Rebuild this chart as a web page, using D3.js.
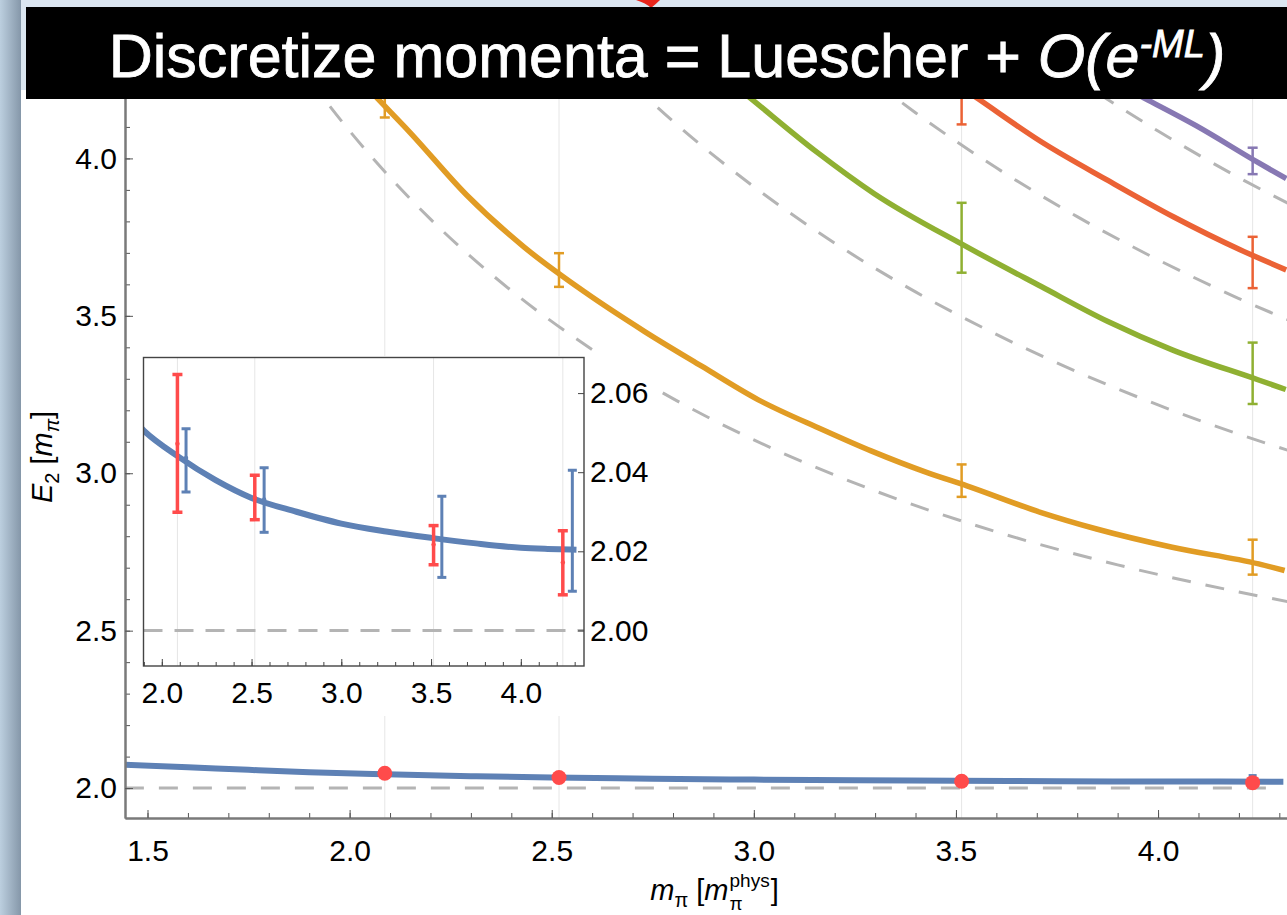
<!DOCTYPE html>
<html lang="en">
<head>
<meta charset="UTF-8">
<title>Discretize momenta = Luescher + O(e^-ML)</title>
<script src="https://d3js.org/d3.v7.min.js"></script>
<style>
  body { margin: 0; background: #dbe6f1; }
  svg { display: block; font-family: "Liberation Sans", Arial, Helvetica, sans-serif; }
  .tick text { fill: #000; }
</style>
</head>
<body>
<svg width="1287" height="915"></svg>
<script>
// ---- data ----
const mpiLattice = [2.087, 2.518, 3.514, 4.234];      // lattice pion masses [m_pi^phys]
const mpiShifted = [2.135, 2.57, 3.56, 4.287];        // blue points, drawn slightly right in the inset

// ground state (red = lattice data, blue = discretized momenta)
const redCentral  = [2.0472, 2.0335, 2.0217, 2.0172];
const redLow      = [2.0299, 2.0280, 2.0166, 2.0090];
const redHigh     = [2.0647, 2.0392, 2.0265, 2.0252];
const blueCentral = [2.0436, 2.0331, 2.0231, 2.0204];
const blueLow     = [2.0350, 2.0248, 2.0134, 2.0099];
const blueHigh    = [2.0510, 2.0411, 2.0339, 2.0405];

const groundX = [1.444, 1.6, 1.75, 1.9, 2.09, 2.3, 2.5, 2.75, 3.0, 3.25, 3.5, 3.75, 4.0, 4.15, 4.31];
const groundE = [2.074, 2.066, 2.058, 2.0505, 2.044, 2.038, 2.0335, 2.030, 2.027, 2.025, 2.0234, 2.022, 2.0209, 2.0206, 2.0204];

// excited levels (solid curves)
const level1X = [2.05, 2.07, 2.149, 2.29, 2.431, 2.58, 2.73, 2.871, 3.01, 3.169, 3.29, 3.429, 3.527, 3.709, 3.848, 4.035, 4.249, 4.313];
const level1E = [4.216, 4.189, 4.083, 3.883, 3.719, 3.577, 3.45, 3.34, 3.234, 3.139, 3.071, 3.002, 2.96, 2.876, 2.823, 2.765, 2.712, 2.691];
const level2X = [2.97, 2.993, 3.156, 3.298, 3.527, 3.711, 3.876, 4.035, 4.247, 4.316];
const level2E = [4.214, 4.19, 4.02, 3.888, 3.719, 3.593, 3.482, 3.392, 3.297, 3.266];
const level3X = [3.53, 3.554, 3.712, 3.876, 4.039, 4.203, 4.317];
const level3E = [4.211, 4.19, 4.052, 3.93, 3.814, 3.71, 3.646];
const level4X = [3.94, 3.968, 4.094, 4.246, 4.317];
const level4E = [4.209, 4.19, 4.104, 3.988, 3.936];

// error bars on excited levels
const level1Low  = [4.13, 3.592, 2.925, 2.678];
const level1High = [4.25, 3.699, 3.028, 2.789];
const level2BarX = [3.514, 4.234];
const level2Low  = [3.637, 3.22];
const level2High = [3.859, 3.415];
const level3BarX = [3.514, 4.234];
const level3Low  = [4.108, 3.588];
const level3High = [4.33, 3.751];
const level4BarX = [4.234];
const level4Low  = [3.95];
const level4High = [4.034];

// non-interacting levels (dashed)
const free1X = [1.9, 2.0, 2.2, 2.4, 2.6, 2.8, 3.0, 3.3, 3.6, 3.9, 4.2, 4.35];
const free1E = [4.251, 4.087, 3.807, 3.58, 3.393, 3.237, 3.106, 2.944, 2.814, 2.709, 2.623, 2.585];
const free2X = [2.7, 2.8, 3.0, 3.2, 3.4, 3.6, 3.8, 4.0, 4.2, 4.35];
const free2E = [4.235, 4.118, 3.91, 3.731, 3.576, 3.441, 3.322, 3.217, 3.124, 3.061];
const free3X = [3.3, 3.4, 3.6, 3.8, 4.0, 4.2, 4.35];
const free3E = [4.242, 4.145, 3.97, 3.815, 3.678, 3.555, 3.472];
const free4X = [3.85, 4.0, 4.2, 4.35];
const free4E = [4.208, 4.087, 3.939, 3.839];
const thresholdX = [1.444, 4.29];
const thresholdE = [2.0, 2.0];

const mainXTicks = [1.5, 2.0, 2.5, 3.0, 3.5, 4.0];
const mainYTicks = [2.0, 2.5, 3.0, 3.5, 4.0];
const insetXTicks = [2.0, 2.5, 3.0, 3.5, 4.0];
const insetYTicks = [2.00, 2.02, 2.04, 2.06];

const colors = { blue: "#5e81b5", orange: "#e19c24", green: "#8fb032", red: "#eb6235", purple: "#8778b3", data: "#ff4b4b", dash: "#b4b4b4", grid: "#e6e6e6" };

// ---- setup ----
const svg = d3.select("svg"), W = 1287, H = 915;

const defs = svg.append("defs");
const edge = defs.append("linearGradient").attr("id", "edge");
edge.append("stop").attr("offset", "0%").attr("stop-color", "#bccfdf");
edge.append("stop").attr("offset", "100%").attr("stop-color", "#8597a9");
defs.append("clipPath").attr("id", "mainClip").append("rect")
  .attr("x", 125).attr("y", 88).attr("width", W - 125).attr("height", 730);
defs.append("clipPath").attr("id", "insetClip").append("rect")
  .attr("x", 143.5).attr("y", 357.5).attr("width", 440.5).attr("height", 308.5);

svg.append("rect").attr("width", W).attr("height", H).attr("fill", "#dbe6f1");
svg.append("rect").attr("width", 21).attr("height", H).attr("fill", "url(#edge)");
svg.append("rect").attr("x", 21).attr("y", 90).attr("width", W - 21).attr("height", H - 90).attr("fill", "#fff");

const x = d3.scaleLinear().domain([1.4443, 4.319]).range([125, 1287]);
const y = d3.scaleLinear().domain([1.905, 4.223]).range([818, 88.2]);
const xi = d3.scaleLinear().domain([1.898, 4.352]).range([143.5, 584]);
const yi = d3.scaleLinear().domain([1.991, 2.069]).range([666, 357.5]);

const curve = (xs, es, sx, sy) => d3.line()
  .x(i => sx(xs[i])).y(i => sy(es[i]))
  .curve(d3.curveMonotoneX)(d3.range(xs.length));

function bars(g, xs, lo, hi, sx, sy, color, w, cap) {
  xs.forEach((v, i) => {
    g.append("line").attr("x1", sx(v)).attr("x2", sx(v)).attr("y1", sy(lo[i])).attr("y2", sy(hi[i]))
      .attr("stroke", color).attr("stroke-width", w);
    [lo[i], hi[i]].forEach(e => g.append("line")
      .attr("x1", sx(v) - cap / 2).attr("x2", sx(v) + cap / 2).attr("y1", sy(e)).attr("y2", sy(e))
      .attr("stroke", color).attr("stroke-width", w));
  });
}

function rich(text, parts) {
  let prev = 0;
  parts.forEach(p => {
    const s = p.shift || 0;
    const ts = text.append("tspan").text(p.t).attr("dy", s - prev);
    prev = s;
    if (p.italic) ts.attr("font-style", "italic");
    if (p.size) ts.attr("font-size", p.size);
    if (p.dx) ts.attr("dx", p.dx);
  });
}

// ---- main plot ----
const main = svg.append("g").attr("clip-path", "url(#mainClip)");

main.selectAll(".grid").data(mpiLattice).enter().append("line")
  .attr("x1", d => x(d)).attr("x2", d => x(d)).attr("y1", 88).attr("y2", 818)
  .attr("stroke", colors.grid).attr("stroke-width", 1);

[[free1X, free1E], [free2X, free2E], [free3X, free3E], [free4X, free4E], [thresholdX, thresholdE]].forEach(([xs, es]) => {
  main.append("path").attr("d", curve(xs, es, x, y)).attr("fill", "none")
    .attr("stroke", colors.dash).attr("stroke-width", 3).attr("stroke-dasharray", "19 15");
});

[[level1X, level1E, colors.orange], [level2X, level2E, colors.green], [level3X, level3E, colors.red], [level4X, level4E, colors.purple]]
  .forEach(([xs, es, c]) => {
    main.append("path").attr("d", curve(xs, es, x, y)).attr("fill", "none")
      .attr("stroke", c).attr("stroke-width", 5.5);
  });

bars(main, mpiLattice, level1Low, level1High, x, y, colors.orange, 2.5, 10);
bars(main, level2BarX, level2Low, level2High, x, y, colors.green, 2.5, 10);
bars(main, level3BarX, level3Low, level3High, x, y, colors.red, 2.5, 10);
bars(main, level4BarX, level4Low, level4High, x, y, colors.purple, 2.5, 10);

main.append("path").attr("d", curve(groundX, groundE, x, y)).attr("fill", "none")
  .attr("stroke", colors.blue).attr("stroke-width", 6);
bars(main, mpiLattice, blueLow, blueHigh, x, y, colors.blue, 2.5, 8);

main.selectAll(".dot").data(mpiLattice).enter().append("circle")
  .attr("cx", d => x(d)).attr("cy", (d, i) => y(redCentral[i])).attr("r", 7.5)
  .attr("fill", colors.data);

// ---- inset ----
const inset = svg.append("g");
inset.append("rect").attr("x", 134).attr("y", 356).attr("width", 526).attr("height", 360).attr("fill", "#fff");
const ic = inset.append("g").attr("clip-path", "url(#insetClip)");

ic.selectAll(".igrid").data(mpiLattice).enter().append("line")
  .attr("x1", d => xi(d)).attr("x2", d => xi(d)).attr("y1", 357).attr("y2", 666)
  .attr("stroke", colors.grid).attr("stroke-width", 1);
ic.append("line").attr("x1", xi(1.898)).attr("x2", xi(4.352)).attr("y1", yi(2.0)).attr("y2", yi(2.0))
  .attr("stroke", colors.dash).attr("stroke-width", 3).attr("stroke-dasharray", "19 12");
ic.append("path").attr("d", curve(groundX, groundE, xi, yi)).attr("fill", "none")
  .attr("stroke", colors.blue).attr("stroke-width", 6);

bars(ic, mpiLattice, redLow, redHigh, xi, yi, colors.data, 3.5, 10);
bars(ic, mpiShifted, blueLow, blueHigh, xi, yi, colors.blue, 3, 9);
ic.selectAll(".rc").data(mpiLattice).enter().append("circle")
  .attr("cx", d => xi(d)).attr("cy", (d, i) => yi(redCentral[i])).attr("r", 2.2).attr("fill", colors.data);
ic.selectAll(".bc").data(mpiShifted).enter().append("circle")
  .attr("cx", d => xi(d)).attr("cy", (d, i) => yi(blueCentral[i])).attr("r", 2.2).attr("fill", colors.blue);

inset.append("rect").attr("x", 143.5).attr("y", 357.5).attr("width", 440.5).attr("height", 308.5)
  .attr("fill", "none").attr("stroke", "#444").attr("stroke-width", 1.4);

const ixMinor = inset.append("g").attr("transform", "translate(0,666)")
  .call(d3.axisBottom(xi).tickValues(d3.range(19, 44).map(d => d / 10)).tickSize(-4).tickSizeOuter(0).tickFormat(""));
const ixMajor = inset.append("g").attr("transform", "translate(0,666)")
  .call(d3.axisBottom(xi).tickValues(insetXTicks).tickSize(-7).tickSizeOuter(0).tickPadding(16).tickFormat(d3.format(".1f")));
const iyAxis = inset.append("g").attr("transform", "translate(584,0)")
  .call(d3.axisRight(yi).tickValues(insetYTicks).tickSize(-6).tickSizeOuter(0).tickPadding(6).tickFormat(d3.format(".2f")));
[ixMinor, ixMajor, iyAxis].forEach(g => {
  g.select(".domain").remove();
  g.selectAll(".tick line").attr("stroke", "#444");
  g.selectAll(".tick text").attr("font-size", 30).attr("font-family", "Liberation Sans, Arial, sans-serif");
});

// ---- main axes ----
const axMinor = svg.append("g").attr("transform", "translate(0,818)")
  .call(d3.axisBottom(x).tickValues(d3.range(15, 44).map(d => d / 10)).tickSize(-5).tickSizeOuter(0).tickFormat(""));
const axMajor = svg.append("g").attr("transform", "translate(0,818)")
  .call(d3.axisBottom(x).tickValues(mainXTicks).tickSize(-8).tickSizeOuter(0).tickPadding(22).tickFormat(d3.format(".1f")));
const ayMinor = svg.append("g").attr("transform", "translate(125,0)")
  .call(d3.axisLeft(y).tickValues(d3.range(20, 43).map(d => d / 10)).tickSize(-5).tickSizeOuter(0).tickFormat(""));
const ayMajor = svg.append("g").attr("transform", "translate(125,0)")
  .call(d3.axisLeft(y).tickValues(mainYTicks).tickSize(-8).tickSizeOuter(0).tickPadding(8).tickFormat(d3.format(".1f")));
[axMinor, axMajor, ayMinor, ayMajor].forEach(g => {
  g.select(".domain").attr("stroke", "#7a7a7a").attr("stroke-width", 2);
  g.selectAll(".tick line").attr("stroke", "#555");
  g.selectAll(".tick text").attr("font-size", 30).attr("font-family", "Liberation Sans, Arial, sans-serif");
});

// axis titles
const yLabel = svg.append("text").attr("transform", "translate(52,457) rotate(-90)")
  .attr("text-anchor", "middle").attr("font-size", 29);
rich(yLabel, [
  { t: "E", italic: true }, { t: "2", size: 20, shift: 7 }, { t: " [", shift: 0 },
  { t: "m", italic: true }, { t: "π", italic: true, size: 20, shift: 7 }, { t: "]", shift: 0 }
]);

// x title: "phys" superscript and π subscript are stacked, so they get their own texts
const xBase = 900;
const xLabel = svg.append("text").attr("y", xBase).attr("font-size", 29);
rich(xLabel, [
  { t: "m", italic: true }, { t: "π", size: 20, shift: 7 }, { t: " [", shift: 0 }, { t: "m", italic: true }
]);
const xSup = svg.append("text").attr("y", xBase - 13).attr("font-size", 19).text("phys");
const xSub = svg.append("text").attr("y", xBase + 10).attr("font-size", 19).text("π");
const xClose = svg.append("text").attr("y", xBase).attr("font-size", 29).text("]");
const wMain = xLabel.node().getComputedTextLength();
const wPhys = xSup.node().getComputedTextLength();
const wClose = xClose.node().getComputedTextLength();
const x0 = 714 - (wMain + wPhys + 1 + wClose) / 2;
xLabel.attr("x", x0);
xSup.attr("x", x0 + wMain + 1);
xSub.attr("x", x0 + wMain + 1);
xClose.attr("x", x0 + wMain + 2 + wPhys);

// ---- title banner ----
svg.append("path").attr("d", "M636,0 L660,0 Q656,4 651,8 Q646,3 636,0 Z").attr("fill", "#e8251b");
svg.append("rect").attr("x", 26).attr("y", 7).attr("width", W - 26).attr("height", 92).attr("fill", "#000");
const title = svg.append("text").attr("x", 667).attr("y", 77).attr("text-anchor", "middle")
  .attr("font-size", 61).attr("fill", "#fff").attr("stroke", "#fff").attr("stroke-width", 0.8);
rich(title, [
  { t: "Discretize momenta = Luescher + " }, { t: "O(e", italic: true },
  { t: "-ML", italic: true, size: 38, shift: -20 }, { t: ")", italic: true, shift: 0 }
]);
</script>
</body>
</html>
